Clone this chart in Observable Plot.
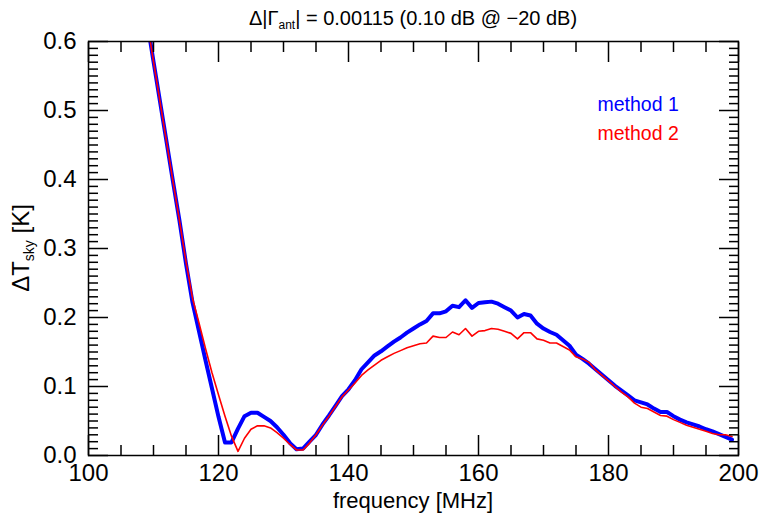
<!DOCTYPE html>
<html><head><meta charset="utf-8">
<script src="https://cdn.jsdelivr.net/npm/d3@7"></script>
<script src="https://cdn.jsdelivr.net/npm/@observablehq/plot@0.6"></script>
<style>
html,body{margin:0;padding:0;background:#fff;}
#chart svg{display:block;font-family:"Liberation Sans",Arial,Helvetica,sans-serif;}
</style></head><body><div id="chart"></div>
<script>
// frequency grid [MHz]
const frequency = [
 109,110,111,112,113,114,115,116,117,118,119,
 120,121,122,123,124,125,126,127,128,129,
 130,131,132,133,134,135,136,137,138,139,
 140,141,142,143,144,145,146,147,148,149,
 150,151,152,153,154,155,156,157,158,159,
 160,161,162,163,164,165,166,167,168,169,
 170,171,172,173,174,175,176,177,178,179,
 180,181,182,183,184,185,186,187,188,189,
 190,191,192,193,194,195,196,197,198,199];
// ΔT_sky [K], method 1
const method1 = [
 0.63,0.571,0.513,0.455,0.397,0.34,0.278,0.222,0.18,0.138,0.097,
 0.056,0.019,0.019,0.039,0.057,0.062,0.062,0.056,0.050,0.041,
 0.030,0.018,0.009,0.010,0.020,0.030,0.045,0.058,0.072,0.086,
 0.096,0.109,0.125,0.135,0.145,0.151,0.158,0.165,0.171,0.178,
 0.184,0.190,0.195,0.206,0.206,0.209,0.217,0.215,0.225,0.214,
 0.221,0.222,0.223,0.220,0.215,0.210,0.200,0.205,0.203,0.191,
 0.184,0.179,0.175,0.167,0.159,0.146,0.140,0.133,0.125,0.117,
 0.109,0.101,0.094,0.087,0.080,0.077,0.074,0.068,0.063,0.063,
 0.057,0.052,0.048,0.045,0.042,0.038,0.035,0.031,0.027,0.023];
// ΔT_sky [K], method 2
const method2 = [
 0.63,0.571,0.513,0.455,0.397,0.34,0.281,0.228,0.192,0.155,0.12,
 0.088,0.057,0.028,0.006,0.025,0.038,0.043,0.043,0.040,0.033,
 0.025,0.016,0.008,0.008,0.018,0.030,0.044,0.057,0.071,0.085,
 0.095,0.105,0.116,0.124,0.131,0.138,0.143,0.148,0.152,0.156,
 0.159,0.162,0.163,0.173,0.171,0.171,0.179,0.175,0.184,0.173,
 0.180,0.181,0.184,0.183,0.180,0.177,0.169,0.178,0.178,0.169,
 0.167,0.163,0.163,0.158,0.153,0.143,0.140,0.135,0.124,0.116,
 0.108,0.100,0.092,0.085,0.076,0.070,0.068,0.063,0.058,0.057,
 0.052,0.048,0.044,0.041,0.038,0.035,0.032,0.030,0.030,0.0275];
const seriesNames = ["method 1", "method 2"];
const seriesColors = ["#0000ff", "#ff0000"];
const xTicksMajor = [100, 120, 140, 160, 180, 200];
const xTicksMinor = [105,110,115,125,130,135,145,150,155,165,170,175,185,190,195];
const yTicksMajor = [0, 0.1, 0.2, 0.3, 0.4, 0.5, 0.6];
const yTicksMinor = [
 0.01,0.02,0.03,0.04,0.05,0.06,0.07,0.08,0.09,
 0.11,0.12,0.13,0.14,0.15,0.16,0.17,0.18,0.19,
 0.21,0.22,0.23,0.24,0.25,0.26,0.27,0.28,0.29,
 0.31,0.32,0.33,0.34,0.35,0.36,0.37,0.38,0.39,
 0.41,0.42,0.43,0.44,0.45,0.46,0.47,0.48,0.49,
 0.51,0.52,0.53,0.54,0.55,0.56,0.57,0.58,0.59];
const titleMain = "Δ|Γ", titleSub = "ant", titleRest = "| = 0.00115 (0.10 dB @ −20 dB)";
const xLabel = "frequency [MHz]";
const yLabelMain = "ΔT", yLabelSub = "sky", yLabelRest = " [K]";

const W = 759, H = 515, mL = 88, mR = 21, mT = 41, mB = 60;
const rows1 = frequency.map((f, i) => ({f, v: method1[i]}));
const rows2 = frequency.map((f, i) => ({f, v: method2[i]}));
const fmt = d => d.toFixed(1);
const tickStyle = {stroke: "#000", strokeWidth: 1.5, fill: "none", label: null};

const plot = Plot.plot({
  width: W, height: H,
  marginLeft: mL, marginRight: mR, marginTop: mT, marginBottom: mB,
  x: {domain: [100, 200]},
  y: {domain: [0, 0.6]},
  style: {background: "#fff", color: "#000", fontFamily: '"Liberation Sans", Arial, sans-serif'},
  marks: [
    Plot.line(rows1, {x: "f", y: "v", stroke: seriesColors[0], strokeWidth: 4, clip: true}),
    Plot.line(rows2, {x: "f", y: "v", stroke: seriesColors[1], strokeWidth: 1.6, clip: true}),
    Plot.frame({stroke: "#000", strokeWidth: 1.5}),
    Plot.axisX(xTicksMajor, {...tickStyle, anchor: "bottom", tickSize: -20}),
    Plot.axisX(xTicksMinor, {...tickStyle, anchor: "bottom", tickSize: -10}),
    Plot.axisX(xTicksMajor, {...tickStyle, anchor: "top", tickSize: -20}),
    Plot.axisX(xTicksMinor, {...tickStyle, anchor: "top", tickSize: -10}),
    Plot.axisY(yTicksMajor, {...tickStyle, anchor: "left", tickSize: -20}),
    Plot.axisY(yTicksMinor, {...tickStyle, anchor: "left", tickSize: -10}),
    Plot.axisY(yTicksMajor, {...tickStyle, anchor: "right", tickSize: -20}),
    Plot.axisY(yTicksMinor, {...tickStyle, anchor: "right", tickSize: -10}),
    Plot.axisX(xTicksMajor, {anchor: "bottom", tickSize: 0, tickPadding: 8, stroke: "none", fill: "#000", fontSize: 24, label: null, tickFormat: d => String(d)}),
    Plot.axisY(yTicksMajor, {anchor: "left", tickSize: 0, tickPadding: 12, stroke: "none", fill: "#000", fontSize: 24, label: null, tickFormat: fmt}),
    ...seriesNames.map((name, i) => Plot.text([name], {
      text: d => d, frameAnchor: "top-left", textAnchor: "start", lineAnchor: "middle",
      dx: 509, dy: 63 + i * 29, fill: seriesColors[i], fontSize: 19.5
    }))
  ]
});

const svg = d3.select(plot);
const cx = (mL + W - mR) / 2;
const t = svg.append("text").attr("x", cx).attr("y", 25).attr("text-anchor", "middle")
  .attr("font-size", 20).attr("fill", "#000");
t.append("tspan").text(titleMain);
t.append("tspan").attr("font-size", 12).attr("dy", 4).text(titleSub);
t.append("tspan").attr("dy", -4).text(titleRest);

svg.append("text").attr("x", cx).attr("y", 508).attr("text-anchor", "middle")
  .attr("font-size", 22).attr("fill", "#000").text(xLabel);

const cy = (mT + H - mB) / 2;
const yl = svg.append("text").attr("transform", `translate(29,${cy}) rotate(-90)`)
  .attr("text-anchor", "middle").attr("font-size", 24).attr("fill", "#000");
yl.append("tspan").text(yLabelMain);
yl.append("tspan").attr("font-size", 14).attr("dy", 5).text(yLabelSub);
yl.append("tspan").attr("dy", -5).text(yLabelRest);

document.getElementById("chart").appendChild(plot);
</script></body></html>
